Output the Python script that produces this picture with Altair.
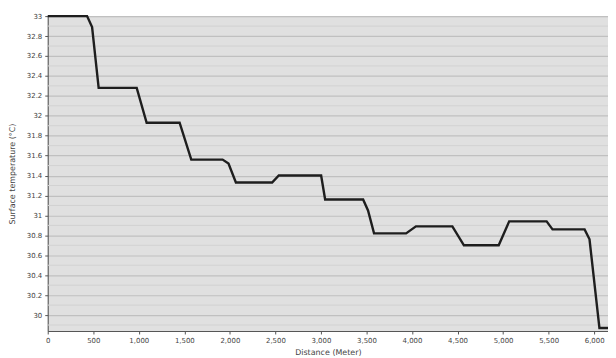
import altair as alt
import pandas as pd

# Profile
distance = [0, 432, 487, 559, 977, 1086, 1448, 1576, 1920, 1985, 2066, 2464, 2537,
            3002, 3046, 3463, 3517, 3583, 3935, 4043, 4443, 4570, 4952, 5067, 5478,
            5543, 5895, 5949, 6058, 6152]
temperature = [33.0, 33.0, 32.89, 32.28, 32.28, 31.93, 31.93, 31.56, 31.56, 31.52, 31.33,
               31.33, 31.40, 31.40, 31.16, 31.16, 31.05, 30.82, 30.82, 30.89, 30.89,
               30.70, 30.70, 30.94, 30.94, 30.86, 30.86, 30.76, 29.87, 29.87]

y_ticks = [30.0, 30.2, 30.4, 30.6, 30.8, 31.0, 31.2, 31.4, 31.6, 31.8, 32.0, 32.2,
           32.4, 32.6, 32.8, 33.0]
y_minor = [29.9, 30.1, 30.3, 30.5, 30.7, 30.9, 31.1, 31.3, 31.5, 31.7, 31.9, 32.1,
           32.3, 32.5, 32.7, 32.9]
x_ticks = [0, 500, 1000, 1500, 2000, 2500, 3000, 3500, 4000, 4500, 5000, 5500, 6000]

df = pd.DataFrame({"distance": distance, "temperature": temperature})
minor_df = pd.DataFrame({"v": y_minor})

x_scale = alt.Scale(domain=[0, 6152], nice=False, zero=False)
y_scale = alt.Scale(domain=[29.84, 33.0], nice=False, zero=False)

y_axis = alt.Axis(values=y_ticks, labelExpr="format(datum.value, '.1~f')",
                  title="Surface temperature (°C)",
                  grid=True, gridColor="#c0c0c0", gridWidth=1.2,
                  labelFontSize=7, titleFontSize=8, labelColor="#444",
                  titleColor="#444", tickSize=3, titlePadding=10,
                  labelPadding=3, domainColor="#555", tickColor="#555")

line = alt.Chart(df).mark_line(color="#1e1e1e", strokeWidth=2.4).encode(
    x=alt.X("distance:Q", scale=x_scale,
            axis=alt.Axis(values=x_ticks, labelExpr="format(datum.value, ',')",
                          title="Distance (Meter)",
                          grid=False, labelFontSize=7, titleFontSize=8,
                          labelColor="#444", titleColor="#444", tickSize=3,
                          titlePadding=5, labelPadding=3, domainColor="#555",
                          tickColor="#555", labelFlush=False)),
    y=alt.Y("temperature:Q", scale=y_scale, axis=y_axis),
)

minor = alt.Chart(minor_df).mark_rule(color="#d2d2d2", strokeWidth=1).encode(
    y=alt.Y("v:Q", scale=y_scale, axis=y_axis)
)

chart = alt.layer(minor, line).properties(
    width=564, height=317,
    autosize=alt.AutoSizeParams(type="none"),
    padding={"left": 40, "top": 7, "right": 0, "bottom": 24},
).configure_view(fill="#e0e0e0", stroke="#c8c8c8").configure_axis(
    labelFont="DejaVu Sans", titleFont="DejaVu Sans", titleFontWeight="normal"
)

chart.save("out.html", embed_options={"renderer": "svg", "actions": False})
